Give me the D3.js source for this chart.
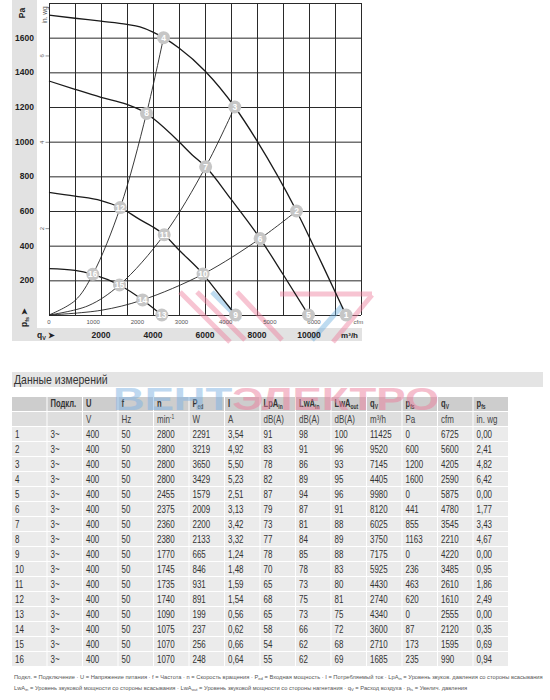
<!DOCTYPE html>
<html><head><meta charset="utf-8">
<script src="https://cdn.jsdelivr.net/npm/d3@7"></script>
<style>
body{margin:0;background:#fff;}
svg{display:block;font-family:"Liberation Sans",Arial,sans-serif;}
</style>
</head><body>
<svg id="c" width="550" height="700"></svg>
<script>
// ---------------- DATA ----------------
const pointIds = [1,2,3,4,5,6,7,8,9,10,11,12,13,14,15,16];
const pointQ   = [11425,9520,7145,4405,9980,8120,6025,3750,7175,5925,4430,2740,4340,3600,2710,1685];
const pointP   = [0,600,1200,1600,0,441,855,1163,0,236,463,620,0,87,173,235];

// fan curves (q m³/h, pfs Pa)
const fanCurve2800 = [[0,1730],[1000,1712],[2000,1695],[3000,1677],[3500,1662],[4000,1632],[4405,1600],[5000,1540],[6000,1408],[7145,1200],[8000,1005],[9520,600],[10500,295],[11425,0]];
const fanCurve2380 = [[0,1350],[1000,1302],[2000,1256],[3000,1215],[3750,1163],[4000,1135],[5000,1000],[5500,925],[6025,855],[7000,668],[8120,441],[9000,235],[9980,0]];
const fanCurve1740 = [[0,708],[1000,686],[2000,660],[2740,620],[3500,550],[4000,508],[4430,463],[5000,375],[5925,236],[6500,128],[7175,0]];
const fanCurve1070 = [[0,268],[1000,258],[1685,235],[2710,173],[3600,87],[4340,0]];
// system curves
const systemCurveA = [[0,0],[1000,83],[1685,235],[2740,620],[3750,1163],[4405,1600]];
const systemCurveB = [[0,0],[1500,53],[2710,173],[4430,463],[6025,855],[7145,1200]];
const systemCurveC = [[0,0],[2000,27],[3600,87],[5925,236],[8120,441],[9520,600]];

// axis ticks
const paTicks   = [200,400,600,800,1000,1200,1400,1600];
const m3hTicks  = [2000,4000,6000,8000,10000];
const cfmTicks  = [0,1000,2000,3000,4000,5000,6000];
const inwgTicks = [2,4,6];

// table columns
const colNo      = ["1","2","3","4","5","6","7","8","9","10","11","12","13","14","15","16"];
const colConn    = Array.from({length:16},()=> "3~");
const colU       = Array.from({length:16},()=> "400");
const colF       = Array.from({length:16},()=> "50");
const colN       = ["2800","2800","2800","2800","2455","2375","2360","2380","1770","1745","1735","1740","1090","1075","1070","1070"];
const colPed     = ["2291","3219","3650","3429","1579","2009","2200","2133","665","846","931","891","199","237","256","248"];
const colI       = ["3,54","4,92","5,50","5,23","2,51","3,13","3,42","3,32","1,24","1,48","1,59","1,54","0,56","0,62","0,66","0,64"];
const colLpAin   = ["91","83","78","82","87","79","73","77","78","70","65","68","65","58","54","55"];
const colLwAin   = ["98","91","86","89","94","87","81","84","85","78","73","75","73","66","62","62"];
const colLwAout  = ["100","96","93","95","96","91","88","89","88","83","80","81","75","72","68","69"];
const colQm3h    = ["11425","9520","7145","4405","9980","8120","6025","3750","7175","5925","4430","2740","4340","3600","2710","1685"];
const colPfsPa   = ["0","600","1200","1600","0","441","855","1163","0","236","463","620","0","87","173","235"];
const colQcfm    = ["6725","5600","4205","2590","5875","4780","3545","2210","4220","3485","2610","1610","2555","2120","1595","990"];
const colPfsInwg = ["0,00","2,41","4,82","6,42","0,00","1,77","3,43","4,67","0,00","0,95","1,86","2,49","0,00","0,35","0,69","0,94"];

const headMain = [["",""],["Подкл.",""],["U",""],["f",""],["n",""],["P","ed"],["I",""],["LpA","in"],["LwA","in"],["LwA","out"],["q","V"],["p","fs"],["q","V"],["p","fs"]];
const headUnit = ["","","V","Hz","min|-1","W","A","dB(A)","dB(A)","dB(A)","m³/h","Pa","cfm","in. wg"];

const tableTitle = "Данные измерений";
const footer1 = [["Подкл. = Подключение · U = Напряжение питания · f = Частота · n = Скорость вращения · P",""],["ed","s"],[" = Входная мощность · I = Потребляемый ток · LpA",""],["in","s"],[" = Уровень звуков. давления со стороны всасывания",""]];
const footer2 = [["LwA",""],["in","s"],[" = Уровень звуковой мощности со стороны всасывания · LwA",""],["out","s"],[" = Уровень звуковой мощности со стороны нагнетания · q",""],["V","s"],[" = Расход воздуха · p",""],["fs","s"],[" = Увелич. давления",""]];

// ---------------- CHART ----------------
const svg = d3.select("#c");
const x = d3.scaleLinear().domain([0,12000]).range([49,361]);
const y = d3.scaleLinear().domain([0,1800]).range([315,3]);
const xCfm = d3.scaleLinear().domain([0,12000/1.699]).range([49,361]);
const yIn = d3.scaleLinear().domain([0,1800/249.09]).range([315,3]);

// grey bands
svg.append("rect").attr("x",12).attr("y",0).attr("width",25).attr("height",341).attr("fill","#e2e2e2");
svg.append("rect").attr("x",12).attr("y",328).attr("width",350).attr("height",13).attr("fill","#e2e2e2");

// grid via axes
const gx = svg.append("g").attr("transform",`translate(0,${y(0)})`)
  .call(d3.axisBottom(x).tickValues(d3.range(0,12001,1000)).tickSize(-(y(0)-y(1800))).tickFormat(""));
const gy = svg.append("g").attr("transform",`translate(${x(0)},0)`)
  .call(d3.axisLeft(y).tickValues(d3.range(0,1801,200)).tickSize(-(x(12000)-x(0))).tickFormat(""));
[gx,gy].forEach(g=>{g.select(".domain").remove(); g.selectAll("line").attr("stroke","#2a2a2a").attr("stroke-width",1);});

// watermark logo stripes (decorative)
const logoPink = [[[180,292],[230,342]],[[197,292],[245,340]],[[237,292],[282,340]],[[280,294],[372,294]],[[372,295],[333,342]]];
const logoBlue = [[[212,292],[240,320]],[[342,306],[312,340]]];
const wmG = svg.append("g").attr("opacity",0.45).attr("stroke-linecap","butt");
wmG.selectAll("line.p").data(logoPink).join("line").attr("class","p")
  .attr("x1",d=>d[0][0]).attr("y1",d=>d[0][1]).attr("x2",d=>d[1][0]).attr("y2",d=>d[1][1])
  .attr("stroke","#ee7d9c").attr("stroke-width",5);
wmG.selectAll("line.b").data(logoBlue).join("line").attr("class","b")
  .attr("x1",d=>d[0][0]).attr("y1",d=>d[0][1]).attr("x2",d=>d[1][0]).attr("y2",d=>d[1][1])
  .attr("stroke","#6fb0e0").attr("stroke-width",5);

// Pa tick labels
svg.append("g").selectAll("text").data(paTicks).join("text")
  .attr("x",34).attr("y",d=>y(d)+3).attr("text-anchor","end")
  .attr("font-size",8.5).attr("font-weight","bold").attr("fill","#222").text(d=>d);
svg.append("text").attr("transform","translate(25,13) rotate(-90)").attr("text-anchor","middle")
  .attr("font-size",8.5).attr("font-weight","bold").attr("fill","#222").text("Pa");
// pfs label
const pl = svg.append("text").attr("transform","translate(27,327) rotate(-90)").attr("text-anchor","start")
  .attr("font-size",8.5).attr("font-weight","bold").attr("fill","#222");
pl.append("tspan").text("p");
pl.append("tspan").attr("font-size",5.5).attr("dy",1.5).text("fs");
pl.append("tspan").attr("dy",-1.5).attr("font-size",8).text(" ➤");

// m3/h labels
svg.append("g").selectAll("text").data(m3hTicks).join("text")
  .attr("x",d=>x(d)).attr("y",338).attr("text-anchor","middle")
  .attr("font-size",8.5).attr("font-weight","bold").attr("fill","#222").text(d=>d);
svg.append("text").attr("x",358).attr("y",338).attr("text-anchor","end")
  .attr("font-size",8).attr("font-weight","bold").attr("fill","#222").text("m³/h");
const ql = svg.append("text").attr("x",37).attr("y",338).attr("font-size",8.5).attr("font-weight","bold").attr("fill","#222");
ql.append("tspan").text("q");
ql.append("tspan").attr("font-size",5.5).attr("dy",1.5).text("V");
ql.append("tspan").attr("dy",-1.5).attr("font-size",8).text(" ➤");

// cfm labels
svg.append("g").selectAll("text").data(cfmTicks).join("text")
  .attr("x",d=>xCfm(d)).attr("y",323.5).attr("text-anchor","middle")
  .attr("font-size",6).attr("fill","#555").text(d=>d);
svg.append("text").attr("x",x(11900)).attr("y",323.5).attr("text-anchor","middle")
  .attr("font-size",6).attr("fill","#555").text("cfm");

// in. wg labels
svg.append("text").attr("transform","translate(47,15) rotate(-90)").attr("text-anchor","middle")
  .attr("font-size",6.5).attr("fill","#555").text("in. wg");
svg.append("g").selectAll("text").data(inwgTicks).join("text")
  .attr("transform",d=>`translate(44,${yIn(d)}) rotate(-90)`).attr("text-anchor","middle")
  .attr("font-size",6).attr("fill","#555").text(d=>d);
svg.append("g").selectAll("line").data(inwgTicks).join("line")
  .attr("x1",45.5).attr("x2",49).attr("y1",d=>yIn(d)).attr("y2",d=>yIn(d)).attr("stroke","#777").attr("stroke-width",0.8);

// curves
const line = d3.line().x(d=>x(d[0])).y(d=>y(d[1])).curve(d3.curveMonotoneX);
const lineS = d3.line().x(d=>x(d[0])).y(d=>y(d[1])).curve(d3.curveCatmullRom.alpha(0.5));
[fanCurve2800,fanCurve2380,fanCurve1740,fanCurve1070].forEach(c=>{
  svg.append("path").attr("d",line(c)).attr("fill","none").attr("stroke","#1a1a1a").attr("stroke-width",1.3);
});
[systemCurveA,systemCurveB,systemCurveC].forEach(c=>{
  svg.append("path").attr("d",lineS(c)).attr("fill","none").attr("stroke","#222").attr("stroke-width",0.9);
});

// markers
const mk = svg.append("g").selectAll("g").data(pointIds).join("g")
  .attr("transform",(d,i)=>`translate(${x(pointQ[i])},${y(pointP[i])})`);
mk.append("circle").attr("r",6.5).attr("fill","#c6c6c6");
mk.append("text").attr("text-anchor","middle").attr("y",3).attr("font-size",8.5).attr("font-weight","bold")
  .attr("fill","#fff").text(d=>d);

// ---------------- TABLE ----------------
const SX = 0.76;
svg.append("rect").attr("x",12).attr("y",372).attr("width",531).attr("height",15).attr("fill","#e4e4e4");
svg.append("text").attr("transform",`translate(14,384) scale(0.84,1)`).attr("font-size",12.5).attr("fill","#333").text(tableTitle);

const cols = [colNo,colConn,colU,colF,colN,colPed,colI,colLpAin,colLwAin,colLwAout,colQm3h,colPfsPa,colQcfm,colPfsInwg];
const colX = i => 12 + i*35.5;
const rowY = r => 397 + r*15;
const tbl = svg.append("g");
headMain.forEach((h,i)=>{
  tbl.append("rect").attr("x",colX(i)).attr("y",rowY(0)).attr("width",34.5).attr("height",14).attr("fill","#cdcdcd");
  const t = tbl.append("text").attr("transform",`translate(${colX(i)+3},${rowY(0)+10}) scale(${SX},1)`)
    .attr("font-size",10).attr("font-weight","bold").attr("fill","#333");
  t.append("tspan").text(h[0]);
  if(h[1]) t.append("tspan").attr("font-size",6.5).attr("dy",2).text(h[1]);
});
headUnit.forEach((h,i)=>{
  tbl.append("rect").attr("x",colX(i)).attr("y",rowY(1)).attr("width",34.5).attr("height",14).attr("fill","#dedede");
  const t = tbl.append("text").attr("transform",`translate(${colX(i)+3},${rowY(1)+10.5}) scale(${SX},1)`)
    .attr("font-size",10.5).attr("fill","#444");
  const parts = h.split("|");
  t.append("tspan").text(parts[0]);
  if(parts[1]) t.append("tspan").attr("font-size",6.5).attr("dy",-4).text(parts[1]);
});
for(let r=0;r<16;r++){
  cols.forEach((c,i)=>{
    tbl.append("rect").attr("x",colX(i)).attr("y",rowY(r+2)).attr("width",34.5).attr("height",14).attr("fill","#ebebeb");
    tbl.append("text").attr("transform",`translate(${colX(i)+3},${rowY(r+2)+10.5}) scale(${SX},1)`)
      .attr("font-size",10.5).attr("fill","#333").text(c[r]);
  });
}

// footer
function footerLine(parts,yy){
  const t = svg.append("text").attr("font-size",5.5).attr("fill","#555");
  parts.forEach((p,k)=>{
    if(p[1]==="s") t.append("tspan").attr("font-size",4).attr("dy",1).text(p[0]);
    else t.append("tspan").attr("dy",k===0?0:-1).text(p[0]);
  });
  return t;
}
const f1 = footerLine(footer1,679);
const f2 = footerLine(footer2,690);
const natural = f1.node().getComputedTextLength();
const fs = 530/natural;
f1.attr("transform",`translate(14,679) scale(${fs},1)`);
f2.attr("transform",`translate(14,690) scale(${fs},1)`);

// watermark text
const wm = svg.append("text").attr("x",113).attr("y",410).attr("font-size",31).attr("font-weight","bold").attr("opacity",0.5)
  .attr("textLength",326).attr("lengthAdjust","spacingAndGlyphs");
wm.append("tspan").attr("fill","#7fb3e3").text("ВЕНТ");
wm.append("tspan").attr("fill","#ec7f9c").text("ЭЛЕКТРО");
</script>
</body></html>
